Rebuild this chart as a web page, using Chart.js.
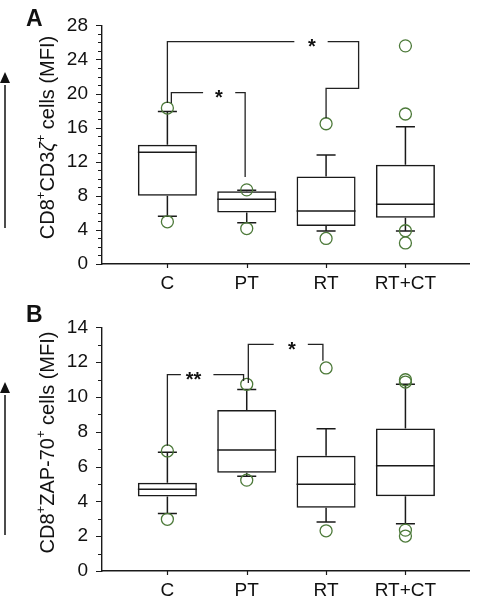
<!DOCTYPE html>
<html><head><meta charset="utf-8">
<script src="https://cdn.jsdelivr.net/npm/chart.js@4"></script>
<style>
html,body{margin:0;padding:0;background:#fff;}
#wrap{position:relative;width:477px;height:604px;overflow:hidden;}
canvas{position:absolute;left:0;}
</style></head><body>
<div id="wrap">
<canvas id="cA" width="477" height="302" style="top:0px"></canvas>
<canvas id="cB" width="477" height="302" style="top:302px"></canvas>
</div>
<script>
// ---------- data ----------
const categories = ['C', 'PT', 'RT', 'RT+CT'];

// Panel A: CD8+CD3ζ+ cells (MFI)
const aQ1          = [8.0, 6.04, 4.46, 5.44];
const aMedian      = [13.1, 7.6, 6.22, 7.0];
const aQ3          = [14.0, 8.55, 10.27, 11.66];
const aWhiskerLow  = [5.6, 4.84, 3.86, 3.86];
const aWhiskerHigh = [17.9, 8.66, 12.8, 16.1];
const aOutliers    = [[18.3, 4.95], [8.7, 4.16], [16.46, 3.0], [25.6, 17.6, 3.9, 2.47]];
const aYMax = 28, aYMajor = 4;

// Panel B: CD8+ZAP-70+ cells (MFI)
const bQ1          = [4.28, 5.65, 3.63, 4.30];
const bMedian      = [4.70, 6.95, 4.98, 6.05];
const bQ3          = [5.07, 9.26, 6.63, 8.19];
const bWhiskerLow  = [3.31, 5.45, 2.82, 2.72];
const bWhiskerHigh = [6.82, 10.43, 8.17, 10.73];
const bOutliers    = [[6.9, 2.97], [10.73, 5.22], [11.67, 2.31], [10.99, 10.86, 2.35, 2.01]];
const bYMax = 14, bYMajor = 2;

// significance brackets (in category-index / value units)
const aBrackets = [
  { left: [[1.05, 18.9], [1.05, 20.1], [1.45, 20.1]], right: [[1.855, 20.1], [1.98, 20.1], [1.98, 10.2]], mark: '*', markAt: [1.65, 20.1] },
  { left: [[1.0, 18.9], [1.0, 26.1], [2.6, 26.1]], right: [[3.02, 26.1], [3.41, 26.1], [3.41, 20.6], [3.0, 20.6], [3.0, 17.1]], mark: '*', markAt: [2.82, 26.1] }
];
const bBrackets = [
  { left: [[1.0, 7.2], [1.0, 11.29], [1.17, 11.29]], right: [[1.58, 11.29], [1.96, 11.29], [1.96, 10.92]], mark: '**', markAt: [1.33, 11.29] },
  { left: [[2.02, 10.8], [2.02, 13.02], [2.34, 13.02]], right: [[2.77, 13.02], [2.96, 13.02], [2.96, 12.08]], mark: '*', markAt: [2.57, 13.02] }
];

// ---------- drawing ----------
const FONT = '"Liberation Sans", Arial, Helvetica, sans-serif';
const INK = '#1a1a1a';
const GREEN = '#4d7a3a';

function makePlugin(p) {
  return {
    id: 'boxExtras',
    beforeDatasetsDraw(chart) {
      const ctx = chart.ctx, xs = chart.scales.x, ys = chart.scales.y;
      const meta = chart.getDatasetMeta(0);
      ctx.save();
      ctx.strokeStyle = INK; ctx.lineWidth = 1.5;
      p.q1.forEach((q, i) => {
        const bar = meta.data[i];
        const cx = bar.x, hw = bar.width / 2;
        const cap = xs.getPixelForValue(1.12) - xs.getPixelForValue(1);
        const yq1 = ys.getPixelForValue(p.q1[i]), yq3 = ys.getPixelForValue(p.q3[i]);
        const ylo = ys.getPixelForValue(p.wLow[i]), yhi = ys.getPixelForValue(p.wHigh[i]);
        const ym = ys.getPixelForValue(p.median[i]);
        ctx.beginPath();
        ctx.moveTo(cx, yq3); ctx.lineTo(cx, yhi);
        ctx.moveTo(cx - cap, yhi); ctx.lineTo(cx + cap, yhi);
        ctx.moveTo(cx, yq1); ctx.lineTo(cx, ylo);
        ctx.moveTo(cx - cap, ylo); ctx.lineTo(cx + cap, ylo);
        ctx.moveTo(cx - hw, ym); ctx.lineTo(cx + hw, ym);
        ctx.stroke();
      });
      ctx.restore();
    },
    afterDraw(chart) {
      const ctx = chart.ctx, xs = chart.scales.x, ys = chart.scales.y;
      const ca = chart.chartArea;
      ctx.save();
      // tick marks
      ctx.strokeStyle = INK; ctx.lineWidth = 1.2;
      ctx.beginPath();
      ys.ticks.forEach(t => {
        const py = Math.round(ys.getPixelForValue(t.value)) + 0.5;
        const len = (t.value % p.major === 0) ? 6 : 4;
        ctx.moveTo(ca.left - len, py); ctx.lineTo(ca.left, py);
      });
      xs.ticks.forEach(t => {
        const px = Math.round(xs.getPixelForValue(t.value)) + 0.5;
        ctx.moveTo(px, ca.bottom); ctx.lineTo(px, ca.bottom + 4);
      });
      ctx.stroke();
      // brackets
      ctx.strokeStyle = '#222'; ctx.lineWidth = 1.3;
      p.brackets.forEach(b => {
        [b.left, b.right].forEach(line => {
          ctx.beginPath();
          line.forEach((pt, k) => {
            const X = xs.getPixelForValue(pt[0]), Y = ys.getPixelForValue(pt[1]);
            if (k === 0) ctx.moveTo(X, Y); else ctx.lineTo(X, Y);
          });
          ctx.stroke();
        });
        ctx.fillStyle = '#111';
        ctx.font = 'bold 20px ' + FONT;
        ctx.textAlign = 'center'; ctx.textBaseline = 'alphabetic';
        ctx.fillText(b.mark, xs.getPixelForValue(b.markAt[0]), ys.getPixelForValue(b.markAt[1]) + 11.5);
      });
      // y axis title (rotated, with superscripts)
      const fs = 20, sfs = 13;
      const segs = p.title;
      const fontOf = s => (s.italic ? 'italic ' : '') + (s.sup ? sfs : fs) + 'px ' + FONT;
      let total = 0;
      segs.forEach(s => { ctx.font = fontOf(s); s.w = ctx.measureText(s.t).width; total += s.w; });
      ctx.translate(p.titleX, p.titleY);
      ctx.rotate(-Math.PI / 2);
      ctx.fillStyle = '#111'; ctx.textAlign = 'left'; ctx.textBaseline = 'alphabetic';
      let x0 = -total / 2;
      segs.forEach(s => {
        ctx.font = fontOf(s);
        ctx.fillText(s.t, x0, s.sup ? -8.5 : 0);
        x0 += s.w;
      });
      ctx.setTransform(1, 0, 0, 1, 0, 0);
      // arrow
      ctx.strokeStyle = '#111'; ctx.fillStyle = '#111'; ctx.lineWidth = 1.5;
      ctx.beginPath(); ctx.moveTo(5, p.arrow[0]); ctx.lineTo(5, p.arrow[1] + 2); ctx.stroke();
      ctx.beginPath(); ctx.moveTo(5, p.arrow[1] - 11); ctx.lineTo(0, p.arrow[1]); ctx.lineTo(10, p.arrow[1]); ctx.closePath(); ctx.fill();
      // panel letter
      ctx.font = 'bold 23px ' + FONT; ctx.textAlign = 'left';
      ctx.fillText(p.letter, 26, p.letterY);
      ctx.restore();
    }
  };
}

function makeChart(canvasId, p) {
  const boxData = categories.map((c, i) => ({ x: i + 1, y: [p.q1[i], p.q3[i]] }));
  const outData = [];
  p.outliers.forEach((arr, i) => arr.forEach(v => outData.push({ x: i + 1, y: v })));
  return new Chart(document.getElementById(canvasId), {
    type: 'bar',
    data: {
      datasets: [
        { type: 'bar', data: boxData, backgroundColor: 'rgba(0,0,0,0)', borderColor: INK, borderWidth: 1.5,
          borderSkipped: false, barPercentage: 0.93, categoryPercentage: 0.8, order: 2 },
        { type: 'scatter', data: outData, pointStyle: 'circle', pointRadius: 6, pointHoverRadius: 6,
          pointBackgroundColor: 'rgba(0,0,0,0)', pointBorderColor: GREEN, pointBorderWidth: 1.3, order: 1 }
      ]
    },
    options: {
      responsive: false, animation: false, devicePixelRatio: 1,
      layout: { padding: { top: p.padTop, right: 1, left: 0, bottom: 0 } },
      plugins: { legend: { display: false }, tooltip: { enabled: false } },
      scales: {
        x: {
          type: 'linear', min: 0.176, max: 4.81, offset: false,
          afterBuildTicks: s => { s.ticks = categories.map((c, i) => ({ value: i + 1 })); },
          afterFit: s => { s.height = p.xHeight; },
          ticks: { autoSkip: false, maxRotation: 0, padding: 8, color: '#111', font: { family: FONT, size: 19 },
                   callback: v => categories[v - 1] || '' },
          grid: { display: true, drawOnChartArea: false, drawTicks: false, offset: false },
          border: { display: true, color: INK, width: 1.4 }
        },
        y: {
          min: 0, max: p.yMax,
          afterBuildTicks: s => { const t = []; for (let v = 0; v <= p.yMax; v += 1) t.push({ value: v }); s.ticks = t; },
          afterFit: s => { s.width = p.axisX; },
          ticks: { autoSkip: false, padding: 14, color: '#111', font: { family: FONT, size: 19 },
                   callback: v => (v % p.major === 0 ? String(v) : '') },
          grid: { display: true, drawOnChartArea: false, drawTicks: false },
          border: { display: true, color: INK, width: 1.4 }
        }
      }
    },
    plugins: [makePlugin(p)]
  });
}

makeChart('cA', {
  q1: aQ1, q3: aQ3, median: aMedian, wLow: aWhiskerLow, wHigh: aWhiskerHigh, outliers: aOutliers,
  yMax: aYMax, major: aYMajor, brackets: aBrackets,
  title: [{ t: 'CD8' }, { t: '+', sup: true }, { t: 'CD3' }, { t: 'ζ', italic: true }, { t: '+', sup: true }, { t: ' cells (MFI)' }],
  titleX: 53.5, titleY: 137.5, arrow: [228, 83], letter: 'A', letterY: 26,
  padTop: 15, xHeight: 38, axisX: 102
});
makeChart('cB', {
  q1: bQ1, q3: bQ3, median: bMedian, wLow: bWhiskerLow, wHigh: bWhiskerHigh, outliers: bOutliers,
  yMax: bYMax, major: bYMajor, brackets: bBrackets,
  title: [{ t: 'CD8' }, { t: '+', sup: true }, { t: 'ZAP-70' }, { t: '+', sup: true }, { t: ' cells (MFI)' }],
  titleX: 53.5, titleY: 140.5, arrow: [233, 91], letter: 'B', letterY: 20,
  padTop: 20.7, xHeight: 33, axisX: 102
});
</script>
</body></html>
